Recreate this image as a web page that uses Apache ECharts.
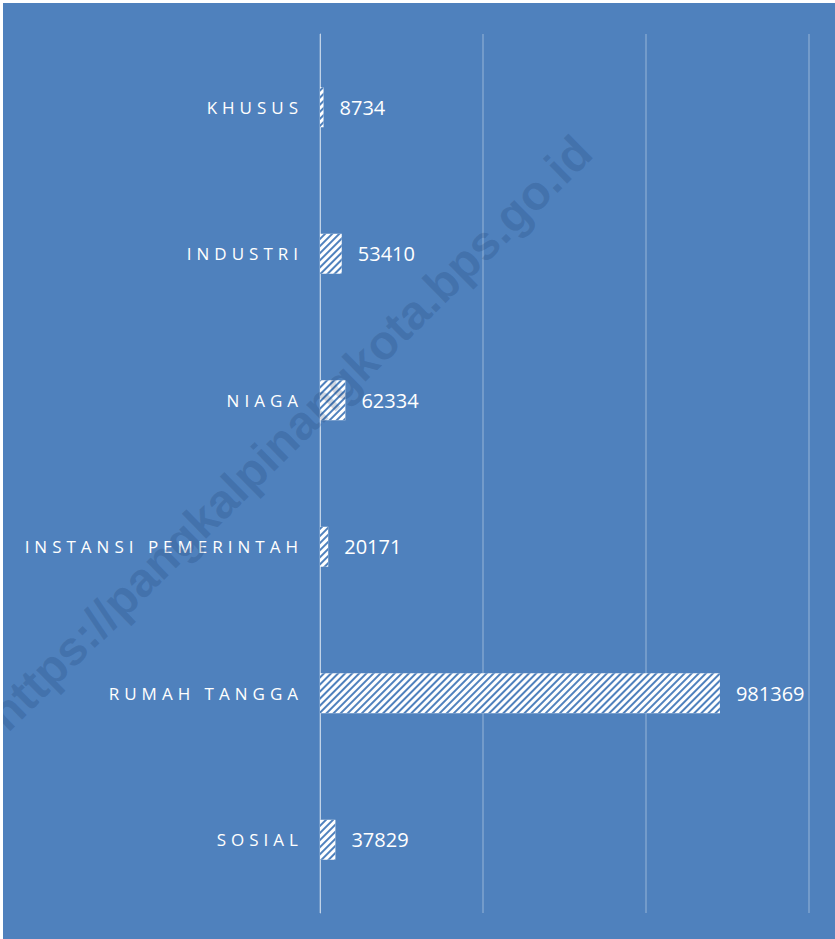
<!DOCTYPE html>
<html>
<head>
<meta charset="utf-8">
<script src="https://cdn.jsdelivr.net/npm/echarts@6/dist/echarts.min.js"></script>
<style>
  html, body { margin: 0; padding: 0; background: #fff; }
  #main { position: absolute; left: 3px; top: 3px; width: 832px; height: 936px; }
  /* spasi huruf untuk label kategori */
  #main text[fill="#fffffe"], #main text[fill="rgb(255,255,254)"] { letter-spacing: 5px; }
</style>
</head>
<body>
<div id="main"></div>
<script>
// kategori pelanggan (atas ke bawah)
const categories = ['KHUSUS', 'INDUSTRI', 'NIAGA', 'INSTANSI PEMERINTAH', 'RUMAH TANGGA', 'SOSIAL'];
// jumlah
const values = [8734, 53410, 62334, 20171, 981369, 37829];
// sumbu nilai
const axisMin = 0;
const axisMax = 1200000;
const axisStep = 400000;
const watermark = 'https://pangkalpinangkota.bps.go.id';

const bg = '#4f81bd';
let myChart = echarts.init(document.getElementById('main'), null, { renderer: 'svg' });

let option = {
  backgroundColor: bg,
  animation: false,
  grid: { left: 317, right: 26, top: 31, bottom: 26 },
  xAxis: {
    type: 'value',
    min: axisMin,
    max: axisMax,
    interval: axisStep,
    axisLabel: { show: false },
    axisLine: { show: false },
    axisTick: { show: false },
    splitLine: { show: true, lineStyle: { color: 'rgba(255,255,255,0.28)', width: 1.5 } }
  },
  yAxis: {
    type: 'category',
    inverse: true,
    data: categories,
    axisTick: { show: false },
    axisLine: { show: true, lineStyle: { color: 'rgba(255,255,255,0.55)', width: 1 } },
    axisLabel: {
      color: '#fffffe',
      fontFamily: 'Open Sans',
      fontSize: 17,
      margin: 17
    }
  },
  series: [{
    type: 'bar',
    data: values,
    barWidth: 40,
    itemStyle: {
      color: '#ffffff',
      decal: {
        symbol: 'rect',
        symbolSize: 1,
        color: bg,
        dashArrayX: [1, 0],
        dashArrayY: [1.6, 2.8],
        rotation: -Math.PI / 4
      }
    },
    label: {
      show: true,
      position: 'right',
      distance: 16,
      color: '#ffffff',
      fontFamily: 'Open Sans',
      fontSize: 20
    }
  }],
  graphic: [{
    type: 'text',
    x: 287,
    y: 430,
    rotation: 0.777,
    z: 100,
    silent: true,
    style: {
      text: watermark,
      font: 'bold 48px "Liberation Sans"',
      fill: 'rgba(20,50,100,0.19)',
      align: 'center',
      verticalAlign: 'middle'
    }
  }]
};

myChart.setOption(option);
</script>
</body>
</html>
